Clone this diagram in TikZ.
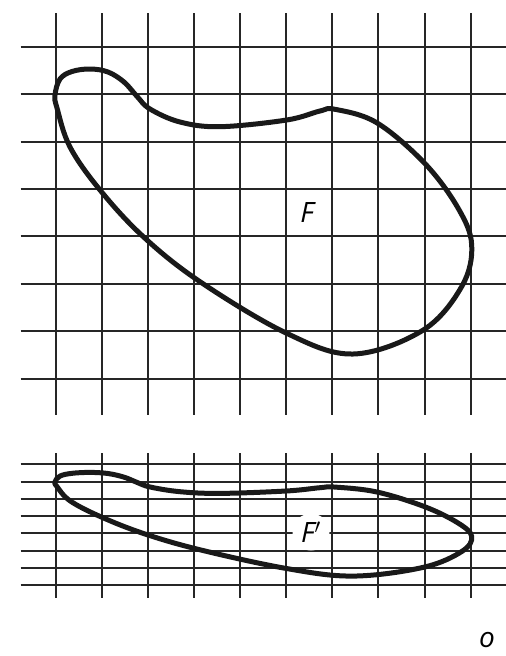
\documentclass[tikz,border=0pt]{standalone}
\usepackage{fontspec}
\setmainfont{Open Sans}
\tikzset{
  gridline/.style={line width=2pt, black!85},
  blob/.style={line width=5pt, black!90, line join=round},
  lbl/.style={font=\fontsize{28}{30}\selectfont\itshape, inner sep=0pt},
}
\newcommand\blobpts{(55,95) (60,79) (72,71.5) (90,69) (108,72) (124,82) (136.7,96) (150,109) (180,122) (220,126.7) (286.7,120) (320,111) (335,109.3) (376.7,122.7) (424.7,163.3) (458,208) (471.7,245) (462,286) (423.3,330) (353.3,354) (286.7,333.3) (200,281.7) (143.3,236.7) (100,190) (70,147) (57,108)}
\begin{document}
\begin{tikzpicture}[x=1pt,y=-1pt]
\useasboundingbox (0,0) rectangle (506,656);
% top grid
\foreach \i in {0,...,9} \draw[gridline] ({56+46.07*\i},13) -- ({56+46.07*\i},415);
\foreach \j in {0,...,7} \draw[gridline] (20.7,{46.7+47.43*\j}) -- (506,{46.7+47.43*\j});
% bottom grid
\foreach \i in {0,...,9} \draw[gridline] ({56+46.07*\i},453.3) -- ({56+46.07*\i},597.7);
\foreach \j in {0,...,7} \draw[gridline] (20.7,{464.3+17.24*\j}) -- (506,{464.3+17.24*\j});
% figure F
\draw[blob] plot[smooth cycle, tension=0.6] coordinates {\blobpts};
% figure F'
\begin{scope}[cm={1,0,0,0.3637,(0pt,-447.32pt)}]
\draw[blob] plot[smooth cycle, tension=0.6] coordinates {\blobpts};
\end{scope}
\node[lbl] (F) at (307,213) {F};
\node[lbl, fill=white, circle, minimum size=37pt] (Fp) at (311,532) {F$'$};
\node[lbl] (O) at (487,640) {o};
\end{tikzpicture}
\end{document}
